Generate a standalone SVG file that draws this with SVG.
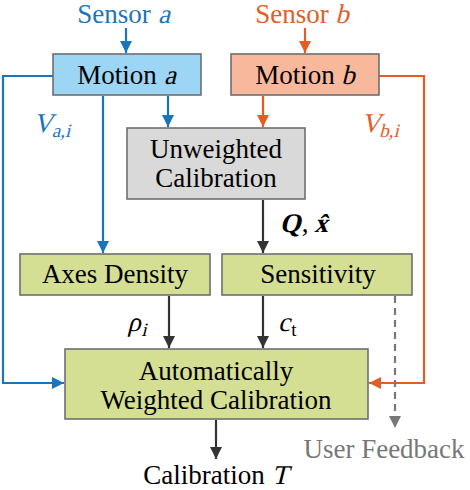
<svg xmlns="http://www.w3.org/2000/svg" width="470" height="490" viewBox="0 0 470 490">
<style>
text{font-family:"Liberation Serif","Times New Roman",serif;font-size:27px;fill:#000;text-anchor:middle}
.box{stroke:#6f6f6f;stroke-width:1.6}
.blue{stroke:#1b75bc;stroke-width:2.2;fill:none}
.orange{stroke:#e35d25;stroke-width:2.2;fill:none}
.dark{stroke:#333;stroke-width:2.2;fill:none}
.dash{stroke:#777;stroke-width:2.2;fill:none;stroke-dasharray:7,5}
.b{font-weight:bold}
.sub{font-size:19px}
.tb{fill:#1b75bc}
.to{fill:#e35d25}
</style>
<defs>
<marker id="ab" markerUnits="userSpaceOnUse" markerWidth="12" markerHeight="12" refX="10" refY="5" orient="auto" viewBox="0 0 10 10"><path d="M0,0 L10,5 L0,10 z" fill="#1b75bc"/></marker>
<marker id="ao" markerUnits="userSpaceOnUse" markerWidth="12" markerHeight="12" refX="10" refY="5" orient="auto" viewBox="0 0 10 10"><path d="M0,0 L10,5 L0,10 z" fill="#e35d25"/></marker>
<marker id="ad" markerUnits="userSpaceOnUse" markerWidth="12" markerHeight="12" refX="10" refY="5" orient="auto" viewBox="0 0 10 10"><path d="M0,0 L10,5 L0,10 z" fill="#333"/></marker>
<marker id="ag" markerUnits="userSpaceOnUse" markerWidth="12" markerHeight="12" refX="10" refY="5" orient="auto" viewBox="0 0 10 10"><path d="M0,0 L10,5 L0,10 z" fill="#777"/></marker>
</defs>

<g id="connectors">
<path class="blue" d="M126,28 V53" marker-end="url(#ab)"/>
<path class="orange" d="M305,28 V53" marker-end="url(#ao)"/>
<path class="blue" d="M53,76 H3 V383 H64" marker-end="url(#ab)"/>
<path class="blue" d="M103,96 V253" marker-end="url(#ab)"/>
<path class="blue" d="M168,96 V127" marker-end="url(#ab)"/>
<path class="orange" d="M263,96 V127" marker-end="url(#ao)"/>
<path class="orange" d="M379,76 H424 V383 H369" marker-end="url(#ao)"/>
<path class="dark" d="M263,200 V253" marker-end="url(#ad)"/>
<path class="dark" d="M169,296 V348" marker-end="url(#ad)"/>
<path class="dark" d="M263,296 V348" marker-end="url(#ad)"/>
<path class="dark" d="M216,420 V459" marker-end="url(#ad)"/>
<path class="dash" d="M395,296 V428" marker-end="url(#ag)"/>
</g>
<g id="edge-labels">
<text class="tb" transform="translate(43,132) skewX(-14)">V</text>
<text class="tb sub" transform="translate(61,137) skewX(-14)">a,i</text>
<text class="to" transform="translate(371,132) skewX(-14)">V</text>
<text class="to sub" transform="translate(389,137) skewX(-14)">b,i</text>
<text transform="translate(134,331) skewX(-14)">ρ</text>
<text class="sub" transform="translate(144,336) skewX(-14)">i</text>
<text transform="translate(284,331) skewX(-14)">c</text>
<text class="sub" x="294" y="336">t</text>
</g>
<g id="edge-label-qx">
<text class="b" transform="translate(290,232) skewX(-14)">Q</text>
<text x="305" y="232">,</text>
<text class="b" transform="translate(321,232) skewX(-14)">x&#770;</text>
</g>

<g id="sensor-a"><text class="tb" x="114" y="23">Sensor</text><text class="tb" transform="translate(164,23) skewX(-14)">a</text></g>
<g id="sensor-b"><text class="to" x="292" y="23">Sensor</text><text class="to" transform="translate(342,23) skewX(-14)">b</text></g>

<g id="motion-a">
<rect class="box" x="53" y="54" width="148" height="41" fill="#9dd5f5"/>
<text x="117" y="84">Motion</text><text transform="translate(170,84) skewX(-14)">a</text>
</g>
<g id="motion-b">
<rect class="box" x="231" y="54" width="148" height="41" fill="#f7b89c"/>
<text x="295" y="84">Motion</text><text transform="translate(348,84) skewX(-14)">b</text>
</g>
<g id="unweighted">
<rect class="box" x="127" y="128" width="178" height="71" fill="#d9d9d9"/>
<text x="216" y="158">Unweighted</text>
<text x="216" y="187">Calibration</text>
</g>
<g id="axes-density">
<rect class="box" x="20" y="254" width="190" height="41" fill="#d5df94"/>
<text x="115" y="283">Axes Density</text>
</g>
<g id="sensitivity">
<rect class="box" x="222" y="254" width="190" height="41" fill="#d5df94"/>
<text x="318" y="283">Sensitivity</text>
</g>
<g id="auto-weighted">
<rect class="box" x="65" y="349" width="303" height="70" fill="#d5df94"/>
<text x="216" y="380">Automatically</text>
<text x="216" y="409">Weighted Calibration</text>
</g>
<g id="user-feedback"><text x="384" y="458" style="fill:#777">User Feedback</text></g>
<g id="calibration-t"><text x="204" y="484">Calibration</text><text transform="translate(280,484) skewX(-14)">T</text></g>
</svg>
